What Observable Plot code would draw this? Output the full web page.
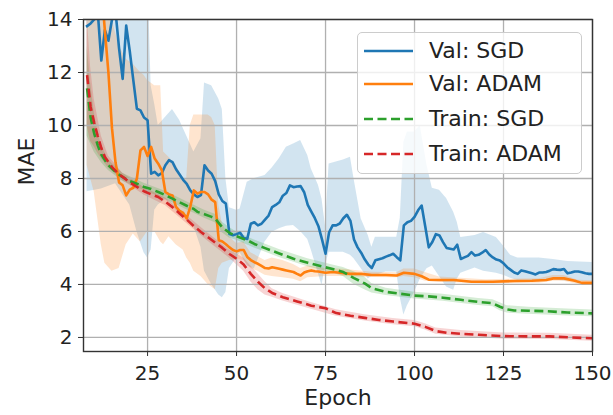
<!DOCTYPE html>
<html><head><meta charset="utf-8">
<script src="https://cdn.jsdelivr.net/npm/d3@7"></script>
<script src="https://cdn.jsdelivr.net/npm/@observablehq/plot@0.6"></script>
<style>
body{margin:0;background:#fff;}
#wrap{position:relative;width:613px;height:415px;font-family:"DejaVu Sans",sans-serif;}
#legend{position:absolute;left:357px;top:32px;width:225px;height:142px;box-sizing:border-box;border:1px solid #cccccc;border-radius:5px;background:rgba(255,255,255,0.8);}
.row{position:absolute;left:0;height:30px;width:220px;}
.row svg{position:absolute;left:5px;top:0;}
.row span{position:absolute;left:71px;top:0;line-height:30px;font-size:22px;color:#222;white-space:nowrap;}
</style></head>
<body><div id="wrap"><div id="chart"></div><div id="legend"></div></div>
<script>
// ---- data ----
const xTicks = [25, 50, 75, 100, 125, 150];
const yTicks = [2, 4, 6, 8, 10, 12, 14];
const seriesNames = ["Val: SGD", "Val: ADAM", "Train: SGD", "Train: ADAM"];
const seriesColors = ["#1f77b4", "#ff7f0e", "#2ca02c", "#d62728"];

// [epoch, MAE]
const valSGD = [[8,13.75],[9,13.85],[10,14.0],[11,14.3],[12,12.45],[13,13.6],[14,13.2],[15,14.0],[16,14.3],[17,12.9],[18,11.76],[19,13.77],[20,12.8],[21,11.7],[22,10.63],[23,10.57],[24,10.3],[25,10.2],[26,8.18],[27,8.25],[28,8.12],[29,8.2],[30,8.5],[31,8.69],[32,8.62],[33,8.35],[34,8.15],[35,7.95],[36,7.8],[37,7.55],[38,7.4],[39,7.3],[40,7.37],[41,8.5],[42,8.3],[43,8.18],[44,7.9],[45,7.4],[46,7.15],[47,7.05],[48,5.9],[49,5.86],[50,5.9],[51,5.95],[52,5.75],[53,5.72],[54,6.29],[55,6.35],[56,6.23],[57,6.29],[58,6.45],[59,6.6],[60,6.92],[61,7.0],[62,7.1],[63,7.35],[64,7.45],[65,7.74],[66,7.67],[67,7.7],[68,7.71],[69,7.48],[70,7.0],[71,6.75],[72,6.5],[73,6.2],[74,5.7],[75,5.16],[76,5.97],[77,6.23],[78,6.23],[79,6.3],[80,6.5],[81,6.63],[82,6.4],[83,5.7],[84,5.4],[85,5.2],[86,4.95],[87,4.75],[88,4.62],[89,4.91],[90,4.95],[91,4.99],[92,5.05],[93,5.1],[94,5.16],[95,5.03],[96,4.91],[97,6.23],[98,6.35],[99,6.4],[100,6.55],[101,6.8],[102,6.98],[103,6.2],[104,5.4],[105,5.6],[106,5.9],[107,5.85],[108,5.6],[109,5.38],[110,5.35],[111,5.32],[112,5.5],[113,4.96],[114,5.02],[115,5.08],[116,5.22],[117,5.09],[118,5.12],[119,5.2],[120,5.3],[121,5.13],[122,5.02],[123,4.94],[124,4.9],[125,4.8],[126,4.65],[127,4.55],[128,4.45],[129,4.4],[130,4.53],[131,4.5],[132,4.46],[133,4.42],[134,4.38],[135,4.45],[136,4.45],[137,4.47],[138,4.52],[139,4.58],[140,4.56],[141,4.55],[142,4.58],[143,4.42],[144,4.45],[145,4.49],[146,4.49],[147,4.46],[148,4.42],[149,4.4],[150,4.4]];
const valADAM = [[8,16],[11,16],[12,15.2],[13,13.6],[14,12.0],[15,9.9],[16,8.6],[17,7.85],[18,7.74],[19,7.36],[20,7.58],[21,7.65],[22,8.0],[23,9.06],[24,9.19],[25,8.85],[26,9.19],[27,8.75],[28,8.56],[29,8.31],[30,7.49],[31,7.4],[32,7.36],[33,6.93],[34,6.78],[35,6.7],[36,6.49],[37,6.93],[38,7.55],[39,7.43],[40,7.49],[41,7.49],[42,7.4],[43,7.2],[44,7.11],[45,5.67],[46,5.62],[47,5.52],[48,5.4],[49,5.3],[50,5.25],[51,5.3],[52,5.3],[53,5.04],[54,4.92],[55,4.84],[56,4.78],[57,4.7],[58,4.62],[59,4.6],[60,4.65],[61,4.62],[62,4.59],[63,4.56],[64,4.53],[65,4.5],[66,4.47],[67,4.4],[68,4.34],[69,4.45],[70,4.5],[71,4.53],[72,4.5],[73,4.49],[75,4.44],[77,4.47],[79,4.44],[82,4.4],[85,4.4],[88,4.36],[92,4.36],[95,4.34],[97,4.44],[100,4.4],[102,4.31],[104,4.18],[107,4.17],[111,4.17],[116,4.1],[122,4.1],[128,4.13],[133,4.14],[137,4.17],[139,4.23],[142,4.23],[145,4.14],[147,4.06],[150,4.06]];
const trainSGD = [[8,11.4],[9,10.3],[10,9.7],[11,9.25],[12,8.9],[13,8.7],[14,8.5],[16,8.25],[18,8.05],[20,7.9],[22,7.8],[24,7.68],[26,7.6],[28,7.49],[30,7.37],[32,7.24],[34,7.1],[36,6.97],[38,6.85],[39,6.74],[41,6.65],[43,6.55],[44,6.49],[46,6.15],[48,5.95],[50,5.82],[53,5.67],[55,5.53],[58,5.37],[62,5.17],[66,4.97],[70,4.82],[74,4.68],[77,4.58],[80,4.47],[83,4.24],[86,4.04],[88,3.86],[92,3.72],[96,3.65],[100,3.58],[104,3.55],[108,3.5],[113,3.42],[118,3.34],[122,3.29],[124,3.16],[126,3.06],[128,3.02],[132,3.01],[137,2.99],[143,2.94],[150,2.91]];
const trainADAM = [[8,11.9],[9,10.7],[10,10.1],[11,9.6],[12,9.15],[13,8.81],[15,8.43],[17,8.15],[18,8.06],[20,7.85],[22,7.68],[24,7.52],[26,7.4],[28,7.3],[30,7.12],[32,6.92],[34,6.68],[36,6.45],[38,6.2],[40,5.98],[42,5.78],[44,5.58],[46,5.38],[48,5.15],[50,4.97],[52,4.75],[54,4.4],[56,4.1],[58,3.85],[60,3.68],[63,3.52],[67,3.36],[71,3.2],[75,3.1],[78,2.92],[82,2.82],[86,2.74],[90,2.66],[94,2.6],[100,2.52],[103,2.4],[106,2.24],[109,2.18],[113,2.14],[118,2.1],[125,2.05],[132,2.04],[138,2.04],[144,2.0],[150,1.97]];

// shaded bands: [epoch, low, high]
const valSGDBand = [[8,7.5,16],[12,7.6,16],[16,7.8,16],[20,7.0,16],[22,6.0,16],[24,5.2,16],[25,5.0,16],[26,5.3,11.5],[27,6.8,10.8],[28,7.0,10.0],[30,7.2,10.3],[32,7.0,10.6],[34,6.6,10.2],[36,6.5,9.6],[38,6.2,9.0],[40,5.4,9.5],[41,4.5,11.6],[43,4.0,11.5],[45,3.6,11.0],[46,3.5,10.6],[47,3.7,8.0],[48,4.6,6.9],[50,5.0,6.8],[51,5.2,6.85],[53,4.7,7.86],[55,4.59,8.0],[58,5.6,8.11],[60,5.97,8.4],[62,6.1,8.74],[64,6.2,9.18],[66,6.23,9.3],[68,6.0,9.43],[70,5.7,8.87],[71,5.3,8.36],[73,4.4,7.74],[74,3.96,7.23],[75,4.72,6.2],[76,5.22,8.55],[78,5.22,8.62],[80,5.22,8.7],[82,5.1,8.8],[83,4.97,7.99],[85,4.6,6.48],[87,4.21,5.85],[88,4.3,5.4],[89,4.34,5.78],[92,4.47,5.78],[95,4.47,5.78],[96,3.5,6.5],[97,2.85,9.37],[98,3.2,9.75],[100,3.71,9.75],[101.6,4.2,10.0],[103.5,4.59,8.5],[105,4.7,7.63],[107,4.3,7.56],[109,3.9,7.24],[111,3.78,6.73],[112,4.2,6.35],[113,4.42,5.77],[117,4.62,5.85],[119.4,4.5,5.96],[123,4.42,5.77],[125,4.35,5.45],[127,4.23,5.1],[129,4.15,5.0],[135,4.1,5.0],[139,4.17,4.94],[143,4.12,4.87],[150,4.1,4.83]];
const valADAMBand = [[8,8.5,16],[10,7.5,16],[12,5.5,16],[13,4.8,16],[15,4.5,14],[17,4.6,13],[19,5.5,12.5],[21,5.9,12.3],[23,5.6,12.0],[24,5.8,11.9],[25,6.0,11.7],[27,6.0,11.5],[28.7,5.6,11.5],[29.5,5.5,9.0],[31,5.8,8.8],[33,5.5,8.5],[35,5.3,8.0],[36,5.0,8.0],[37,4.8,10.0],[38,4.5,10.4],[40,4.3,10.4],[42,4.0,10.4],[43,3.9,10.3],[44,3.8,10.0],[45,4.6,7.0],[46,4.8,6.3],[48,4.9,5.8],[50,4.95,5.55],[52,4.9,5.6],[54,4.6,5.2],[56,4.5,5.05],[58,4.35,4.9],[60,4.3,5.0],[63,4.25,4.9],[66,4.2,4.75],[68,4.1,4.6],[70,4.25,4.7],[75,4.3,4.6],[80,4.3,4.57],[88,4.26,4.46],[95,4.25,4.44],[97,4.3,4.58],[100,4.25,4.58],[103,4.12,4.45],[107,4.08,4.28],[120,4.02,4.18],[135,4.05,4.22],[139,4.12,4.34],[142,4.12,4.34],[146,4.0,4.16],[150,3.98,4.14]];
const trainSGDBand = [[8,9.6,13.0],[9,9.3,11.6],[10,9.0,10.5],[11,8.8,9.8],[12,8.6,9.25],[14,8.3,8.7],[18,7.9,8.2],[24,7.55,7.82],[30,7.22,7.52],[36,6.82,7.12],[41,6.5,6.8],[44,6.33,6.65],[46,5.95,6.35],[48,5.75,6.15],[50,5.67,5.98],[55,5.38,5.68],[62,5.02,5.32],[70,4.67,4.97],[77,4.43,4.73],[80,4.3,4.64],[83,4.0,4.48],[86,3.8,4.28],[88,3.68,4.04],[92,3.58,3.86],[100,3.45,3.71],[108,3.37,3.63],[118,3.21,3.47],[122,3.16,3.42],[124,3.01,3.31],[126,2.92,3.2],[132,2.88,3.14],[143,2.81,3.07],[150,2.78,3.04]];
const trainADAMBand = [[8,10.0,14.2],[9,9.4,12.2],[10,9.2,11.0],[11,8.95,10.3],[12,8.75,9.6],[14,8.4,8.85],[18,7.92,8.2],[24,7.38,7.66],[30,6.98,7.26],[36,6.3,6.6],[42,5.63,5.93],[48,5.0,5.3],[52,4.5,5.0],[54,4.1,4.7],[56,3.8,4.4],[58,3.6,4.1],[60,3.52,3.84],[63,3.38,3.66],[70,3.1,3.36],[78,2.8,3.05],[86,2.62,2.86],[94,2.48,2.72],[100,2.4,2.64],[103,2.28,2.52],[106,2.12,2.36],[113,2.02,2.26],[125,1.93,2.17],[138,1.92,2.16],[150,1.86,2.08]];

// ---- chart ----
const lines = [valSGD, valADAM, trainSGD, trainADAM];
const bands = [valSGDBand, valADAMBand, trainSGDBand, trainADAMBand];
const dashed = [false, false, true, true];
const DASH = "9,4.5";

const bandMarks = bands.map((b, i) => Plot.areaY(b, {
  x: d => d[0], y1: d => d[1], y2: d => d[2],
  fill: seriesColors[i], fillOpacity: 0.2, clip: true
}));
const lineMarks = lines.map((l, i) => Plot.line(l, {
  x: d => d[0], y: d => d[1], stroke: seriesColors[i], strokeWidth: 2.6,
  strokeDasharray: dashed[i] ? DASH : null, strokeLinecap: dashed[i] ? "butt" : "square",
  strokeLinejoin: "round", clip: true
}));

const chart = Plot.plot({
  width: 613, height: 415,
  marginLeft: 83, marginRight: 21, marginTop: 19, marginBottom: 64,
  style: {fontFamily: "DejaVu Sans", fontSize: "20px", color: "#222", background: "white"},
  x: {domain: [7, 150]},
  y: {domain: [1.47, 14]},
  marks: [
    ...bandMarks,
    Plot.gridX(xTicks, {stroke: "#b0b0b0", strokeOpacity: 1, strokeWidth: 1.3}),
    Plot.gridY(yTicks, {stroke: "#b0b0b0", strokeOpacity: 1, strokeWidth: 1.3}),
    ...lineMarks,
    Plot.frame({stroke: "#333", strokeWidth: 1.4}),
    Plot.axisX(xTicks, {tickSize: 5, tickPadding: 9, fontSize: 20, label: null, tickFormat: d => d, stroke: "#333"}),
    Plot.axisY(yTicks, {tickSize: 5, tickPadding: 6, fontSize: 20, label: null, tickFormat: d => d, stroke: "#333"}),
    Plot.text(["Epoch"], {text: d => d, frameAnchor: "bottom", dy: 53, fontSize: 22, fill: "#222"}),
    Plot.text(["MAE"], {text: d => d, frameAnchor: "left", dx: -57, rotate: -90, fontSize: 22, fill: "#222"})
  ]
});
document.getElementById("chart").appendChild(chart);

// ---- legend ----
const legend = d3.select("#legend");
const rowTops = [3, 36, 71, 106];
seriesNames.forEach((name, i) => {
  const row = legend.append("div").attr("class", "row").style("top", rowTops[i] + "px");
  const svg = row.append("svg").attr("width", 52).attr("height", 30);
  svg.append("line").attr("x1", 1).attr("x2", 50).attr("y1", 15).attr("y2", 15)
    .attr("stroke", seriesColors[i]).attr("stroke-width", 2.6)
    .attr("stroke-dasharray", dashed[i] ? DASH : null);
  row.append("span").text(name);
});
</script></body></html>
